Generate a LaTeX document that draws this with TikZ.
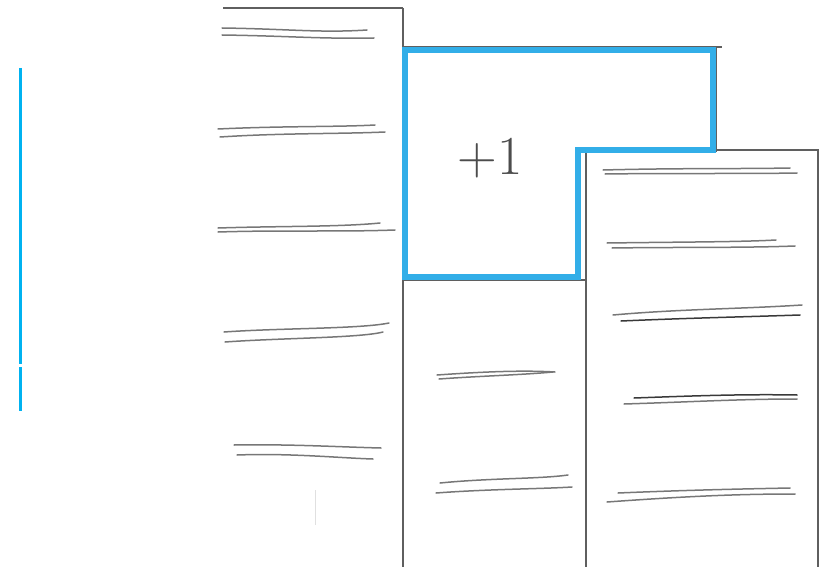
\documentclass[tikz,border=0pt]{standalone}
\definecolor{hlblue}{RGB}{50,174,232}
\definecolor{barblue}{RGB}{0,178,240}
\definecolor{pen}{RGB}{95,95,95}
\begin{document}
\begin{tikzpicture}[x=1pt,y=-1pt,
  frame/.style={draw=pen,line width=1.3pt},
  scrib/.style={draw=pen!85,line width=1.5pt,line cap=round},
  hl/.style={draw=hlblue,line width=6.5pt,line join=miter}]
\useasboundingbox (0,0) rectangle (819,567);
% faint guide
\draw[black!12,line width=1pt] (315,490) -- (315,525);
% frame lines
\draw[frame] (223,8) -- (403,8);
\draw[frame] (403,8) -- (403,567);
\draw[frame] (403,47) -- (722,47);
\draw[frame] (716,47) -- (716,152);
\draw[frame] (586,150) -- (818,150) -- (818,567);
\draw[frame] (586,150) -- (586,567);
\draw[frame] (403,280) -- (586,280);
% blue highlight
\draw[hl] (405,50) -- (713,50) -- (713,150) -- (578,150) -- (578,277) -- (405,277) -- cycle;
\node[text=black!70,font=\fontsize{55}{55}\selectfont,inner sep=0pt] (plus) at (490,158) {+1};
% left bar
\draw[barblue,line width=3pt] (20,68) -- (20,364);
\draw[barblue,line width=3pt] (20,367) -- (20,411);
% left column scribbles
\draw[scrib] (222,28) .. controls (290,29) and (320,33) .. (367,30);
\draw[scrib] (222,35) .. controls (290,36) and (320,39) .. (374,38);
\draw[scrib] (218,129) .. controls (280,126) and (340,127) .. (375,125);
\draw[scrib] (220,137) .. controls (280,133) and (340,134) .. (385,132);
\draw[scrib] (218,228) .. controls (280,226) and (340,227) .. (380,223);
\draw[scrib] (218,232) .. controls (280,230) and (340,232) .. (395,230);
\draw[scrib] (224,332) .. controls (280,328) and (360,329) .. (389,323);
\draw[scrib] (225,342) .. controls (280,338) and (360,338) .. (383,332);
\draw[scrib] (234,445) .. controls (290,444) and (340,447) .. (381,448);
\draw[scrib] (237,455) .. controls (290,453) and (340,458) .. (373,459);
% middle column scribbles
\draw[scrib] (437,375) .. controls (480,372) and (520,370) .. (555,372);
\draw[scrib] (439,379) .. controls (480,376) and (520,375) .. (553,372);
\draw[scrib] (440,483) .. controls (490,478) and (540,479) .. (568,475);
\draw[scrib] (436,493) .. controls (490,489) and (540,489) .. (572,487);
% right column scribbles
\draw[scrib] (603,170) .. controls (680,168) and (740,169) .. (790,168);
\draw[scrib] (605,174) .. controls (680,173) and (740,174) .. (797,173);
\draw[scrib] (607,243) .. controls (680,242) and (740,242) .. (776,240);
\draw[scrib] (612,248) .. controls (680,247) and (740,248) .. (795,246);
\draw[scrib] (613,315) .. controls (680,309) and (740,309) .. (802,305);
\draw[scrib,draw=pen!60!black] (621,321) .. controls (690,318) and (740,317) .. (800,315);
\draw[scrib,draw=pen!60!black] (634,398) .. controls (690,396) and (740,394) .. (797,395);
\draw[scrib] (624,404) .. controls (690,402) and (740,399) .. (797,399);
\draw[scrib] (618,493) .. controls (690,490) and (740,489) .. (790,488);
\draw[scrib] (607,502) .. controls (690,496) and (740,494) .. (795,494);
\end{tikzpicture}
\end{document}
